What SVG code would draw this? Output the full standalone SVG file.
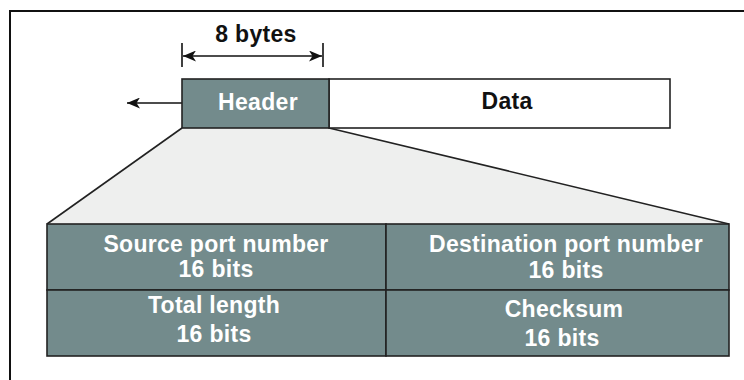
<svg xmlns="http://www.w3.org/2000/svg" width="744" height="380" viewBox="0 0 744 380">
  <defs>
    <marker id="arrow" markerWidth="13" markerHeight="11" refX="13" refY="5.5" orient="auto-start-reverse" markerUnits="userSpaceOnUse">
      <path d="M0,0 L13,5.5 L0,11 L3.5,5.5 Z" fill="#111"/>
    </marker>
    <style>
      .lbl { font-family: "Liberation Sans", Arial, sans-serif; font-weight: bold; font-size: 23px; letter-spacing: 0.3px; text-anchor: middle; }
      .light { fill: #ffffff; }
      .dark { fill: #111111; }
      .cell { fill: #738b8c; stroke: #222; stroke-width: 1.6; }
      .line { stroke: #222; stroke-width: 1.6; fill: none; }
    </style>
  </defs>

  <!-- frame -->
  <rect x="10" y="11" width="760" height="400" fill="#fff" stroke="#111" stroke-width="2"/>

  <!-- expansion wedge from header to field table -->
  <polygon points="182,128 329,128 729,224 47,224" fill="#eeefee" stroke="none"/>
  <g id="connectors">
    <line class="line" x1="182" y1="128" x2="47" y2="224"/>
    <line class="line" x1="329" y1="128" x2="729" y2="224"/>
    <!-- direction arrow -->
    <line x1="182" y1="103" x2="127" y2="103" stroke="#111" stroke-width="1.6" marker-end="url(#arrow)"/>
    <!-- 8 bytes dimension -->
    <line x1="182" y1="43" x2="182" y2="67" stroke="#111" stroke-width="1.6"/>
    <line x1="323" y1="43" x2="323" y2="67" stroke="#111" stroke-width="1.6"/>
    <line x1="183" y1="56" x2="322" y2="56" stroke="#111" stroke-width="1.6" marker-start="url(#arrow)" marker-end="url(#arrow)"/>
  </g>
  <text class="lbl dark" x="256" y="42">8 bytes</text>

  <!-- datagram -->
  <g id="data">
    <rect x="329" y="79" width="341" height="49" fill="#fff" stroke="#222" stroke-width="1.6"/>
    <text class="lbl dark" x="507" y="109">Data</text>
  </g>
  <g id="header">
    <rect class="cell" x="182" y="79" width="147" height="49"/>
    <text class="lbl light" x="258" y="110">Header</text>
  </g>

  <!-- header fields -->
  <g id="source-port">
    <rect class="cell" x="47" y="224" width="339" height="66"/>
    <text class="lbl light" x="216" y="252">Source port number</text>
    <text class="lbl light" x="216" y="277">16 bits</text>
  </g>
  <g id="destination-port">
    <rect class="cell" x="386" y="224" width="343" height="66"/>
    <text class="lbl light" x="566" y="252">Destination port number</text>
    <text class="lbl light" x="566" y="278">16 bits</text>
  </g>
  <g id="total-length">
    <rect class="cell" x="47" y="290" width="339" height="66"/>
    <text class="lbl light" x="214" y="313">Total length</text>
    <text class="lbl light" x="214" y="342">16 bits</text>
  </g>
  <g id="checksum">
    <rect class="cell" x="386" y="290" width="343" height="66"/>
    <text class="lbl light" x="564" y="317">Checksum</text>
    <text class="lbl light" x="562" y="346">16 bits</text>
  </g>
</svg>
